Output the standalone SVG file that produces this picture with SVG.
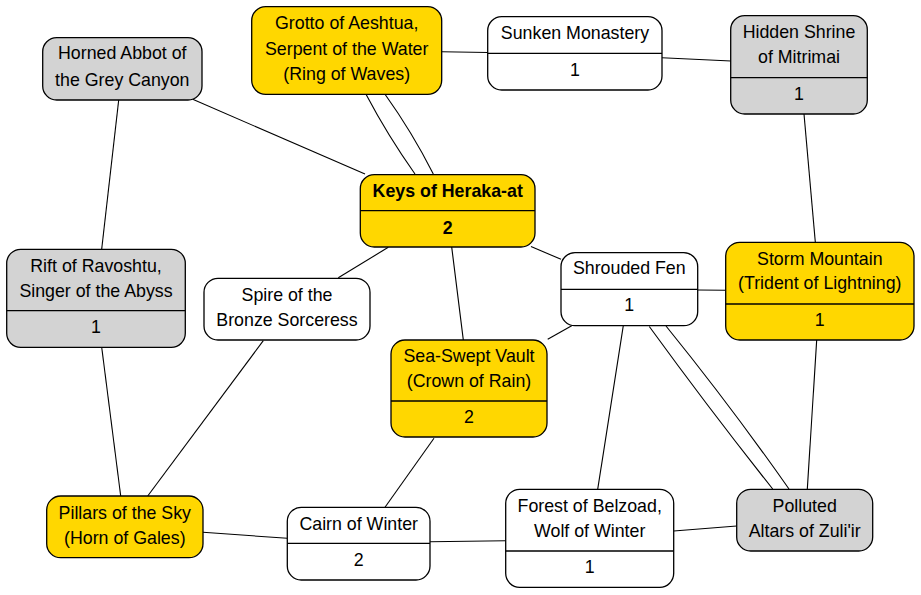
<svg xmlns="http://www.w3.org/2000/svg" width="921" height="595" viewBox="0 0 921 595">
<style>
.n rect{stroke:#000;stroke-width:1.3}
.g rect{fill:#FFD700}
.y rect{fill:#D3D3D3}
.w rect{fill:#FFFFFF}
.n line{stroke:#000;stroke-width:1.3}
text{font-family:"Liberation Sans",Arial,sans-serif;font-size:17.8px;fill:#000;text-anchor:middle}
.b{font-weight:bold}
#edges line,#edges path{stroke:#000;stroke-width:1.1;fill:none}
</style>
<rect width="921" height="595" fill="#fff"/>
<g id="edges">
<line x1="192.7" y1="99.3" x2="365" y2="174"/>
<line x1="118.7" y1="100" x2="101.7" y2="249"/>
<path d="M366,94.3 Q388,136 415,174"/>
<path d="M385,94.3 Q412,132 433.3,174"/>
<line x1="441.7" y1="51.7" x2="488" y2="52.5"/>
<line x1="662" y1="57.7" x2="731" y2="61"/>
<line x1="804" y1="114" x2="815.3" y2="242"/>
<line x1="338.3" y1="277.7" x2="388.3" y2="247.3"/>
<line x1="451.7" y1="247" x2="463.3" y2="340"/>
<line x1="531" y1="246.5" x2="561" y2="259.3"/>
<line x1="697.7" y1="290" x2="725.7" y2="290.3"/>
<line x1="571.7" y1="325.7" x2="547.7" y2="339.3"/>
<line x1="623.3" y1="325.7" x2="597.7" y2="489.3"/>
<path d="M649.3,326.5 Q710,410 772.7,489"/>
<path d="M666,326 Q730,405 789,489"/>
<line x1="816.7" y1="340" x2="807.3" y2="489.3"/>
<line x1="101.7" y1="347.3" x2="120.7" y2="496"/>
<line x1="263.3" y1="340.7" x2="147.7" y2="496"/>
<line x1="203" y1="532.3" x2="287.3" y2="538.3"/>
<line x1="434" y1="438.3" x2="385" y2="507.3"/>
<line x1="430" y1="541.7" x2="505.7" y2="540.7"/>
<line x1="673.7" y1="531" x2="736.7" y2="526"/>
</g>
<g id="horned-abbot" class="n y">
<rect x="42.7" y="37.7" width="159.3" height="62.3" rx="14"/>
<text x="122.3" y="59.3">Horned Abbot of</text>
<text x="122.3" y="86">the Grey Canyon</text>
</g>
<g id="grotto" class="n g">
<rect x="251.7" y="6.7" width="190" height="87.6" rx="14"/>
<text x="346.7" y="29.3">Grotto of Aeshtua,</text>
<text x="346.7" y="54.7">Serpent of the Water</text>
<text x="346.7" y="80">(Ring of Waves)</text>
</g>
<g id="sunken-monastery" class="n w">
<rect x="487.7" y="16.7" width="174.3" height="73.3" rx="14"/>
<line x1="487.7" y1="53.3" x2="662" y2="53.3"/>
<text x="575" y="39.3">Sunken Monastery</text>
<text x="575" y="76">1</text>
</g>
<g id="hidden-shrine" class="n y">
<rect x="730.7" y="15.7" width="136.6" height="98.3" rx="14"/>
<line x1="730.7" y1="77.7" x2="867.3" y2="77.7"/>
<text x="799" y="37.7">Hidden Shrine</text>
<text x="799" y="63.3">of Mitrimai</text>
<text x="799" y="100.3">1</text>
</g>
<g id="keys" class="n g">
<rect x="360.3" y="174.7" width="174.7" height="72.3" rx="14"/>
<line x1="360.3" y1="210.7" x2="535" y2="210.7"/>
<text class="b" x="447.7" y="196.7">Keys of Heraka-at</text>
<text class="b" x="447.7" y="233.7">2</text>
</g>
<g id="rift" class="n y">
<rect x="6.7" y="249.3" width="178.6" height="98" rx="14"/>
<line x1="6.7" y1="310.7" x2="185.3" y2="310.7"/>
<text x="96" y="271.7">Rift of Ravoshtu,</text>
<text x="96" y="296.7">Singer of the Abyss</text>
<text x="96" y="332.7">1</text>
</g>
<g id="spire" class="n w">
<rect x="204" y="278.3" width="166" height="61.7" rx="14"/>
<text x="287" y="301">Spire of the</text>
<text x="287" y="326">Bronze Sorceress</text>
</g>
<g id="shrouded-fen" class="n w">
<rect x="561" y="252.7" width="136.7" height="73" rx="14"/>
<line x1="561" y1="289.3" x2="697.7" y2="289.3"/>
<text x="629.3" y="274.3">Shrouded Fen</text>
<text x="629.3" y="311">1</text>
</g>
<g id="storm-mountain" class="n g">
<rect x="725.7" y="242.3" width="188.3" height="97.7" rx="14"/>
<line x1="725.7" y1="304" x2="914" y2="304"/>
<text x="819.8" y="265">Storm Mountain</text>
<text x="819.8" y="289.3">(Trident of Lightning)</text>
<text x="819.8" y="326">1</text>
</g>
<g id="sea-swept-vault" class="n g">
<rect x="391" y="340" width="156" height="97" rx="14"/>
<line x1="391" y1="401" x2="547" y2="401"/>
<text x="469" y="362">Sea-Swept Vault</text>
<text x="469" y="386.7">(Crown of Rain)</text>
<text x="469" y="422.7">2</text>
</g>
<g id="pillars" class="n g">
<rect x="46.7" y="496" width="156.3" height="61.7" rx="14"/>
<text x="124.8" y="518.7">Pillars of the Sky</text>
<text x="124.8" y="543.7">(Horn of Gales)</text>
</g>
<g id="cairn" class="n w">
<rect x="287.3" y="507.3" width="142.7" height="72.7" rx="14"/>
<line x1="287.3" y1="543.3" x2="430" y2="543.3"/>
<text x="358.7" y="530">Cairn of Winter</text>
<text x="358.7" y="566">2</text>
</g>
<g id="forest" class="n w">
<rect x="505.7" y="489.3" width="168" height="98" rx="14"/>
<line x1="505.7" y1="551" x2="673.7" y2="551"/>
<text x="589.7" y="511.7">Forest of Belzoad,</text>
<text x="589.7" y="536.7">Wolf of Winter</text>
<text x="589.7" y="572.7">1</text>
</g>
<g id="polluted" class="n y">
<rect x="736.7" y="489.3" width="136" height="61.7" rx="14"/>
<text x="804.7" y="511.7">Polluted</text>
<text x="804.7" y="536.7">Altars of Zuli'ir</text>
</g>
</svg>
